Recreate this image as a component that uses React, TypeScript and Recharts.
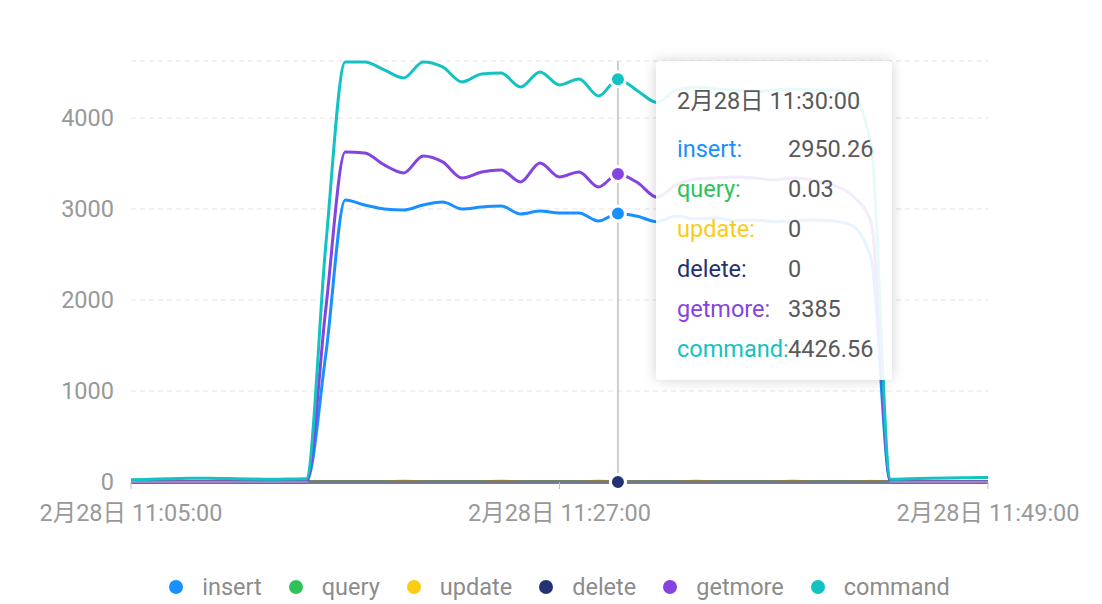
import { LineChart, Line, XAxis, YAxis, Tooltip, CartesianGrid } from "recharts";

const DAY = "2月28日";

const times = [
  "11:05:00", "11:06:00", "11:07:00", "11:08:00", "11:09:00", "11:10:00", "11:11:00", "11:12:00", "11:13:00",
  "11:14:00", "11:15:00", "11:16:00", "11:17:00", "11:18:00", "11:19:00", "11:20:00", "11:21:00", "11:22:00",
  "11:23:00", "11:24:00", "11:25:00", "11:26:00", "11:27:00", "11:28:00", "11:29:00", "11:30:00", "11:31:00",
  "11:32:00", "11:33:00", "11:34:00", "11:35:00", "11:36:00", "11:37:00", "11:38:00", "11:39:00", "11:40:00",
  "11:41:00", "11:42:00", "11:43:00", "11:44:00", "11:45:00", "11:46:00", "11:47:00", "11:48:00", "11:49:00",
];

const xTicks = ["11:05:00", "11:27:00", "11:49:00"];
const yTicks = [0, 1000, 2000, 3000, 4000, 4626];

const insertVals = [
  0, 0, 0, 0, 0, 0, 0, 0, 0, 0, 1400, 3099, 3044, 3000, 2989, 3044, 3077, 3000, 3022, 3033, 2945, 2978, 2956,
  2956, 2868, 2950.26, 2920, 2860, 2923, 2890, 2900, 2870, 2880, 2860, 2870, 2880, 2870, 2820, 2450, 0, 0, 0, 0, 0, 0,
];
const queryVals = [
  0, 0, 0, 0, 0, 0, 0, 0, 0, 0, 0.02, 0.03, 0.03, 0.03, 0.04, 0.03, 0.03, 0.03, 0.03, 0.03, 0.03, 0.03, 0.03,
  0.03, 0.03, 0.03, 0.03, 0.03, 0.03, 0.03, 0.03, 0.03, 0.03, 0.03, 0.03, 0.03, 0.03, 0.03, 0.02, 0, 0, 0, 0, 0, 0,
];
const updateVals = [
  0, 0, 0, 0, 0, 0, 0, 0, 0, 0, 0, 0, 0, 0, 10, 0, 0, 0, 0, 10, 0, 0, 0,
  0, 12, 0, 0, 0, 0, 10, 0, 0, 0, 0, 10, 0, 0, 0, 8, 0, 0, 0, 0, 0, 0,
];
const deleteVals = [
  0, 0, 0, 0, 0, 0, 0, 0, 0, 0, 0, 0, 0, 0, 0, 0, 0, 0, 0, 0, 0, 0, 0,
  0, 0, 0, 0, 0, 0, 0, 0, 0, 0, 0, 0, 0, 0, 0, 0, 0, 0, 0, 0, 0, 0,
];
const getmoreVals = [
  0, 0, 0, 0, 0, 0, 0, 0, 0, 0, 1900, 3627, 3616, 3484, 3396, 3583, 3517, 3341, 3407, 3429, 3297, 3506, 3352,
  3407, 3242, 3385, 3290, 3130, 3264, 3330, 3341, 3352, 3341, 3319, 3341, 3319, 3264, 3154, 2850, 0, 0, 0, 0, 0, 0,
];
const commandVals = [
  25, 30, 36, 40, 42, 38, 33, 30, 32, 35, 2600, 4616, 4616, 4528, 4440, 4616, 4561, 4396, 4484, 4495, 4341, 4506, 4363,
  4429, 4242, 4426.56, 4300, 4170, 4308, 4341, 4319, 4308, 4286, 4308, 4319, 4308, 4308, 4250, 3700, 30, 35, 40, 45, 48, 50,
];

const series = [
  { key: "insert", color: "#1890FF", vals: insertVals },
  { key: "query", color: "#2FC25B", vals: queryVals },
  { key: "update", color: "#FACC14", vals: updateVals },
  { key: "delete", color: "#223273", vals: deleteVals },
  { key: "getmore", color: "#8543E0", vals: getmoreVals },
  { key: "command", color: "#13C2C2", vals: commandVals },
];

const rows = times.map((t, i) => {
  const r: Record<string, any> = { time: t };
  for (const s of series) r[s.key] = s.vals[i];
  return r;
});

const FONT = 'Roboto, "Noto Sans CJK SC", sans-serif';
const FS = 23.5;

function TipBox({ active, payload, label }: any) {
  if (!active || !payload || !payload.length) return null;
  return (
    <div
      style={{
        width: 236, height: 319, boxSizing: "border-box", padding: "20px 0 0 21px",
        background: "rgba(255,255,255,0.9)", borderRadius: 4,
        boxShadow: "0 0 14px rgba(0,0,0,0.18)", fontSize: FS, color: "#595959", fontFamily: FONT,
      }}
    >
      <div style={{ lineHeight: "40px", marginBottom: 8, whiteSpace: "nowrap" }}>{DAY} {label}</div>
      {payload.map((p: any) => (
        <div key={p.dataKey} style={{ lineHeight: "40px", whiteSpace: "nowrap" }}>
          <span style={{ display: "inline-block", width: 111, color: p.color }}>{p.name}:</span>
          {p.value}
        </div>
      ))}
    </div>
  );
}

export default function App() {
  return (
    <div style={{ position: "absolute", left: 0, top: 0, width: 1102, height: 604, fontFamily: FONT, background: "#fff" }}>
      <LineChart width={1102} height={604} data={rows} margin={{ top: 61, right: 114, bottom: 92, left: 0 }}>
        <CartesianGrid vertical={false} stroke="#e3e3e3" strokeDasharray="5 4" />
        <XAxis
          dataKey="time"
          ticks={xTicks}
          interval={0}
          tickFormatter={(v) => `${DAY} ${v}`}
          height={30}
          stroke="#bfbfbf"
          tickSize={7}
          tickMargin={15}
          tick={{ fill: "#999", fontSize: FS }}
        />
        <YAxis
          domain={[0, 4626]}
          ticks={yTicks}
          width={131}
          axisLine={false}
          tickLine={false}
          tickSize={0}
          tickMargin={17}
          tickFormatter={(v) => (v === 4626 ? "" : String(v))}
          tick={{ fill: "#999", fontSize: FS }}
        />
        <Tooltip
          active={true}
          defaultIndex={25}
          position={{ x: 656, y: 61 }}
          isAnimationActive={false}
          cursor={{ stroke: "#bfbfbf", strokeWidth: 1.5 }}
          content={<TipBox />}
          wrapperStyle={{ outline: "none" }}
        />
        {series.map((s) => (
          <Line
            key={s.key}
            type="monotone"
            dataKey={s.key}
            name={s.key}
            stroke={s.color}
            strokeWidth={3}
            dot={false}
            activeDot={{ r: 7.5, fill: s.color, stroke: "#fff", strokeWidth: 3 }}
            isAnimationActive={false}
          />
        ))}
      </LineChart>
      <div
        style={{
          position: "absolute", left: 131, width: 857, top: 572, height: 30,
          display: "flex", justifyContent: "center", alignItems: "center",
          fontSize: FS, color: "#8c8c8c",
        }}
      >
        {series.map((s, i) => (
          <div key={s.key} style={{ display: "flex", alignItems: "center", marginRight: i < series.length - 1 ? 27 : 0 }}>
            <span style={{ width: 14, height: 14, borderRadius: "50%", background: s.color, marginRight: 19 }} />
            <span>{s.key}</span>
          </div>
        ))}
      </div>
    </div>
  );
}
